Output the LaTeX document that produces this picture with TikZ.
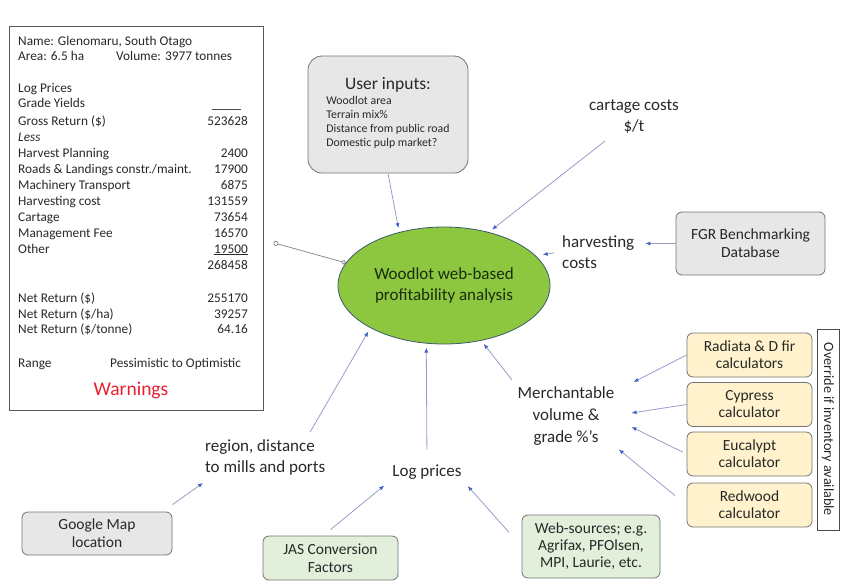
\documentclass[tikz,border=0pt]{standalone}
\usepackage{fontspec}
\setmainfont{Carlito}
\usetikzlibrary{arrows.meta,shapes.geometric,positioning}

\definecolor{boxgray}{RGB}{231,231,231}
\definecolor{boxedge}{RGB}{115,115,115}
\definecolor{calcyellow}{RGB}{255,242,204}
\definecolor{srcgreen}{RGB}{226,239,218}
\definecolor{hubgreen}{RGB}{141,198,63}
\definecolor{hubedge}{RGB}{60,90,110}
\definecolor{hubtext}{RGB}{25,45,15}
\definecolor{linkblue}{RGB}{150,158,200}
\definecolor{tipblue}{RGB}{68,95,195}
\definecolor{warnred}{RGB}{235,30,50}
\definecolor{inktext}{RGB}{40,40,40}

\newcommand{\fsz}[2]{\fontsize{#1pt}{#2pt}\selectfont}

\begin{document}
\begin{tikzpicture}[x=1pt,y=-1pt,text=inktext,
  link/.style={draw=linkblue,line width=0.8pt,-{Latex[length=5pt,width=4pt,color=tipblue]}},
  tomain/.style={link,shorten >=4pt},
  graybox/.style={draw=boxedge,fill=boxgray,rounded corners=6pt,line width=0.8pt,
    align=center,font=\fsz{15.5}{18}},
  calcbox/.style={graybox,fill=calcyellow,minimum width=125pt,minimum height=44pt,font=\fsz{15.5}{17}},
  srcbox/.style={graybox,fill=srcgreen},
  infotext/.style={align=center,inner sep=2pt,font=\fsz{17}{21}},
  sumtext/.style={inner sep=0pt,font=\fsz{13.3}{15}}]
\useasboundingbox (0,0) rectangle (841,582);

% summary sheet
\node[draw=black!65,line width=1pt,minimum width=254pt,minimum height=384pt,inner sep=0pt]
  (summary) at (136,218) {};
\node[sumtext,anchor=base west] (name) at (18,45) {Name: Glenomaru, South Otago};
\node[sumtext,anchor=base west] (area) at (18,60) {Area: 6.5 ha};
\node[sumtext,anchor=base west] (volume) at (116,60) {Volume: 3977 tonnes};
\node[sumtext,anchor=base west] (logrow) at (18,92) {Log Prices};
\node[sumtext,anchor=base west] (graderow) at (18,107) {Grade Yields};
\node[sumtext,anchor=base west] (less) at (18,141) {\textit{Less}};
\foreach \yy/\lab/\val in {121/{Gross Return (\$)}/523628, 153/{Harvest Planning}/2400,
  169/{Roads \& Landings constr./maint.}/17900, 185/{Machinery Transport}/6875,
  201/{Harvesting cost}/131559, 217/Cartage/73654, 233/{Management Fee}/16570,
  249/Other/{\underline{19500}}, 298/{Net Return (\$)}/255170,
  314/{Net Return (\$/ha)}/39257, 329/{Net Return (\$/tonne)}/64.16}
{
  \node[sumtext,anchor=base west] (lab\yy) at (18,\yy+4) {\lab};
  \node[sumtext,anchor=base east] (val\yy) at (248,\yy+4) {\val};
}
\draw[black!70,line width=0.7pt] (212,109) -- (241,109);
\node[sumtext,anchor=base east] (subtotal) at (248,269) {268458};
\node[sumtext,anchor=base west] (range) at (18,367) {Range};
\node[sumtext,anchor=base west] (outlook) at (110,367) {Pessimistic to Optimistic};
\node[sumtext,font=\fsz{19.5}{22},text=warnred] (warn) at (131,390) {Warnings};

% hub
\node[ellipse,draw=hubedge,fill=hubgreen,line width=0.8pt,minimum width=212pt,
  minimum height=117pt,inner sep=0pt,align=center,font=\fsz{17}{21},text=hubtext]
  (main) at (444,285.5) {Woodlot web-based\\profitability analysis};

% inputs
\node[graybox,rounded corners=14pt,minimum width=160pt,minimum height=117pt,
  font=\fsz{11.8}{14.3}] (userin) at (388,114.5)
  {\begin{tabular}{@{}l@{}}
   \multicolumn{1}{@{}c@{}}{\fsz{17.5}{20}User inputs:}\\
   Woodlot area\\ Terrain mix\%\\ Distance from public road\\ Domestic pulp market?
   \end{tabular}};
\node[infotext] (cartage) at (634,117) {cartage costs\\\$/t};
\node[infotext,align=left,anchor=west] (harvest) at (560,252) {harvesting\\costs};
\node[graybox,minimum width=149pt,minimum height=63pt] (fgr) at (750.5,243.5)
  {FGR Benchmarking\\Database};
\node[infotext,font=\fsz{17}{22}] (merch) at (566,416) {Merchantable\\volume \&\\grade \%'s};
\node[calcbox] (radiata) at (749.5,355) {Radiata \& D fir\\calculators};
\node[calcbox] (cypress) at (749.5,404.5) {Cypress\\calculator};
\node[calcbox] (eucalypt) at (749.5,454) {Eucalypt\\calculator};
\node[calcbox] (redwood) at (749.5,505) {Redwood\\calculator};
\node[draw=black!70,line width=0.8pt,fill=white,rotate=-90,minimum width=201pt,
  minimum height=22pt,inner sep=0pt,font=\fsz{14.2}{16}] (override) at (828,429.5)
  {Override if inventory available};
\node[infotext] (logp) at (427,472) {Log prices};
\node[infotext,align=left,anchor=west] (region) at (203,457) {region, distance\\to mills and ports};
\node[graybox,minimum width=150pt,minimum height=43pt] (gmap) at (97,533.5) {Google Map\\location};
\node[srcbox,minimum width=135pt,minimum height=44pt] (jas) at (330.5,558) {JAS Conversion\\Factors};
\node[srcbox,minimum width=138pt,minimum height=63pt,font=\fsz{15.5}{17}] (web) at (591,546.5)
  {Web-sources; e.g.\\Agrifax, PFOlsen,\\MPI, Laurie, etc.};

% connectors
\draw[draw=black!50,line width=0.7pt,{Circle[open,length=5pt]}-{Circle[open,length=4.5pt]}]
  ([xshift=10pt]summary.-11.6) -- (main.167);
\draw[tomain] (userin.south) -- (main.130);
\draw[tomain] ([xshift=-29pt,yshift=-5pt]cartage.south) -- (main.50);
\draw[link,shorten <=6pt,shorten >=7pt] (harvest.west) -- (main.18);
\draw[link,shorten >=9pt] (fgr.west) -- (fgr.west -| harvest.east);
\draw[tomain,shorten <=6pt] (merch.north west) -- (main.-56);
\draw[link] (radiata.west) -- ([xshift=17pt,yshift=34pt]merch.east);
\draw[link] (cypress.west) -- ([xshift=15pt,yshift=3pt]merch.east);
\draw[link,shorten <=4pt] (eucalypt.west) -- ([xshift=15pt,yshift=-11pt]merch.east);
\draw[link,shorten <=15pt,shorten >=3pt] (redwood.west) -- (merch.south east);
\draw[tomain,shorten <=13pt] (logp.north) -- (main.-107);
\draw[tomain,shorten <=6pt] ([xshift=42pt]region.north) -- (main.-150);
\draw[link] ([yshift=7pt]gmap.north east) -- ([yshift=-6pt]region.south west);
\draw[link] ([yshift=6pt]jas.north) -- ([xshift=-6pt,yshift=-4pt]logp.south west);
\draw[link,shorten <=19pt,shorten >=6pt] (web.west) -- (logp.south east);
\end{tikzpicture}
\end{document}
